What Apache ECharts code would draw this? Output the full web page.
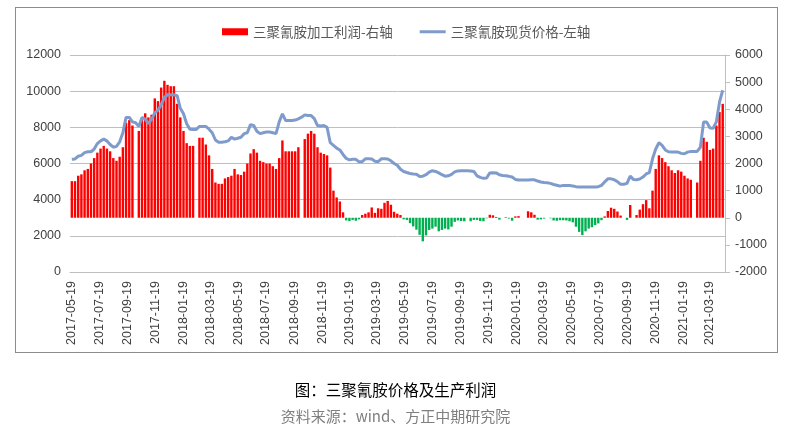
<!DOCTYPE html>
<html><head><meta charset="utf-8">
<script src="https://cdn.jsdelivr.net/npm/echarts@6/dist/echarts.min.js"></script>
<style>
html,body{margin:0;padding:0;background:#fff}
#wrap{position:relative;width:791px;height:436px}
#c{width:791px;height:436px}
#frame{position:absolute;left:15px;top:7px;width:763px;height:346px;box-sizing:border-box;border:1px solid #8C8C8C;pointer-events:none}
</style>
</head><body><div id="wrap"><div id="c"></div><div id="frame"></div></div>
<script>
// weekly observations, first one on 2017-05-19, one every 7 days
const firstWeek = [2017, 5, 19];
const weekCount = 205;

// 三聚氰胺加工利润 (right axis), null = no bar that week
const profit = [
1350,1350,1550,1600,1750,1800,2000,2200,2400,2550,
2650,2550,2450,2200,2100,2250,2600,3500,3600,3400,
null,3200,3600,3850,3700,3800,4400,4300,4800,5050,
4900,4850,4850,4200,3700,3200,2750,2650,2650,null,
2950,2950,2700,2300,1800,1300,1250,1250,1450,1500,
1550,1800,1600,1575,1700,2000,2370,2530,2400,2100,
2050,2000,2000,1900,1800,2200,2850,2450,2450,2450,
2450,2600,null,2900,3100,3200,3100,2600,2400,2350,
2300,1850,1000,750,600,200,-100,-120,-80,-110,
-60,100,150,200,380,180,350,330,550,620,
480,220,150,100,-60,-80,-200,-320,-440,-630,
-870,-650,-450,-400,-330,-500,-450,-400,-430,-330,
-150,-100,-120,-130,null,-130,-80,-80,-120,-130,
-20,110,90,30,-70,null,20,-30,-110,50,
60,null,null,240,200,110,-70,-60,-30,null,
-20,-100,-110,-90,-90,-100,-130,-170,-330,-520,
-640,-500,-400,-350,-270,-210,-90,50,250,370,
330,230,80,null,-80,470,null,100,300,500,
650,350,1000,1800,2300,2200,2050,1900,1750,1650,
1750,1700,1550,1450,1400,null,1300,2100,2950,2800,
2500,2550,3400,3900,4200
];

// 三聚氰胺现货价格 (left axis)
const price = [
6230,6250,6400,6450,6600,6650,6650,6800,7100,7250,
7350,7250,7050,6900,6950,7200,7700,8550,8550,8300,
8250,8050,8550,8450,8200,8450,8800,8950,9250,9650,
9800,9800,9800,9750,9050,8750,8200,7900,7880,7880,
8050,8050,8050,7900,7700,7300,7180,7180,7200,7250,
7450,7350,7400,7450,7650,7700,8150,8100,7780,7650,
7700,7740,7740,7700,7650,8300,8750,8380,8380,8380,
8400,8470,8560,8690,8650,8650,8480,8100,8080,8100,
8000,7150,7000,6850,6750,6500,6280,6200,6230,6230,
6100,6100,6260,6260,6250,6130,6100,6260,6260,6250,
6150,6000,5900,5680,5560,5500,5450,5420,5400,5280,
5300,5380,5520,5600,5560,5480,5380,5300,5320,5400,
5540,5590,5600,5600,5600,5590,5560,5320,5230,5180,
5200,5480,5490,5480,5380,5340,5320,5290,5250,5120,
5090,5085,5085,5085,5100,5100,5030,4980,4950,4930,
4900,4840,4800,4750,4790,4790,4780,4760,4720,4700,
4700,4700,4700,4700,4700,4720,4790,4980,5150,5150,
5100,5000,4850,4850,4900,5300,5120,5100,5140,5250,
5420,5500,6260,6800,7150,7000,6750,6650,6640,6630,
6630,6560,6540,6630,6670,6670,6670,6900,8290,8290,
7960,7950,8300,9400,10050
];

const tickLabels = ['2017-05-19','2017-07-19','2017-09-19','2017-11-19','2018-01-19','2018-03-19',
'2018-05-19','2018-07-19','2018-09-19','2018-11-19','2019-01-19','2019-03-19',
'2019-05-19','2019-07-19','2019-09-19','2019-11-19','2020-01-19','2020-03-19',
'2020-05-19','2020-07-19','2020-09-19','2020-11-19','2021-01-19','2021-03-19'];

const axisMin = '2017-05-15';
const axisMax = '2021-04-21';

function ts(s){const p=s.split('-').map(Number);return new Date(p[0],p[1]-1,p[2]).getTime();}
function fmt(v){const d=new Date(v);const p=n=>(n<10?'0':'')+n;return d.getFullYear()+'-'+p(d.getMonth()+1)+'-'+p(d.getDate());}

const weeks = [];
for(let i=0;i<weekCount;i++) weeks.push(new Date(firstWeek[0],firstWeek[1]-1,firstWeek[2]+7*i).getTime());

const barData = [], lineData = [];
weeks.forEach((w,i)=>{
  if(profit[i]!==null) barData.push([w,profit[i]]);
  lineData.push([w,price[i]]);
});

const RED='#FF0000', GREEN='#00B050', BLUE='#7F9BCB';
const chart = echarts.init(document.getElementById('c'), null, {renderer:'canvas'});
const axisFont = {fontFamily:'Liberation Sans', fontSize:12.5, color:'#404040'};
chart.setOption({
  animation:false,
  backgroundColor:'#fff',
  title:[
    {text:'图：三聚氰胺价格及生产利润', left:'center', top:377,
     textStyle:{fontSize:15.5, fontWeight:'normal', color:'#000', fontFamily:'Noto Sans CJK SC'}},
    {text:'资料来源：wind、方正中期研究院', left:'center', top:404,
     textStyle:{fontSize:15, fontWeight:'normal', color:'#7F7F7F', fontFamily:'Noto Sans CJK SC'}}
  ],
  legend:{
    left:217, top:20, itemWidth:26, itemHeight:7, itemGap:27, symbolKeepAspect:true,
    textStyle:{fontSize:13.5, color:'#595959', fontFamily:'Noto Sans CJK SC'},
    data:[
      {name:'三聚氰胺加工利润-右轴', icon:'rect', itemStyle:{color:RED}},
      {name:'三聚氰胺现货价格-左轴', icon:'path://M0,0h26v3h-26z', itemStyle:{color:BLUE}}
    ]
  },
  grid:{left:70, right:66, top:55, bottom:164},
  xAxis:{
    type:'value', min:ts(axisMin), max:ts(axisMax),
    axisLine:{show:true, lineStyle:{color:'#BFBFBF', width:1}},
    axisTick:{show:false},
    splitLine:{show:false},
    axisLabel:Object.assign({rotate:90, margin:9, customValues:tickLabels.map(ts),
      formatter:v=>fmt(v), hideOverlap:false}, axisFont)
  },
  yAxis:[
    {type:'value', min:0, max:12000, interval:2000, position:'left',
     axisLine:{show:false}, axisTick:{show:false},
     splitLine:{show:true, lineStyle:{color:'#BFBFBF', width:1}},
     axisLabel:Object.assign({margin:9, formatter:v=>String(v)}, axisFont)},
    {type:'value', min:-2000, max:6000, interval:1000, position:'right',
     axisLine:{show:true, lineStyle:{color:'#BFBFBF', width:1}},
     axisTick:{show:true, inside:false, length:5, lineStyle:{color:'#BFBFBF'}},
     splitLine:{show:false},
     axisLabel:Object.assign({margin:10, formatter:v=>String(v)}, axisFont)}
  ],
  series:[
    {name:'三聚氰胺加工利润-右轴', type:'bar', yAxisIndex:1, barWidth:2.4,
     data:barData,
     itemStyle:{color:p=>p.value[1]>=0?RED:GREEN}, z:2},
    {name:'三聚氰胺现货价格-左轴', type:'line', yAxisIndex:0, symbol:'none',
     data:lineData, lineStyle:{color:BLUE, width:3}, itemStyle:{color:BLUE}, z:3}
  ]
});
</script></body></html>
